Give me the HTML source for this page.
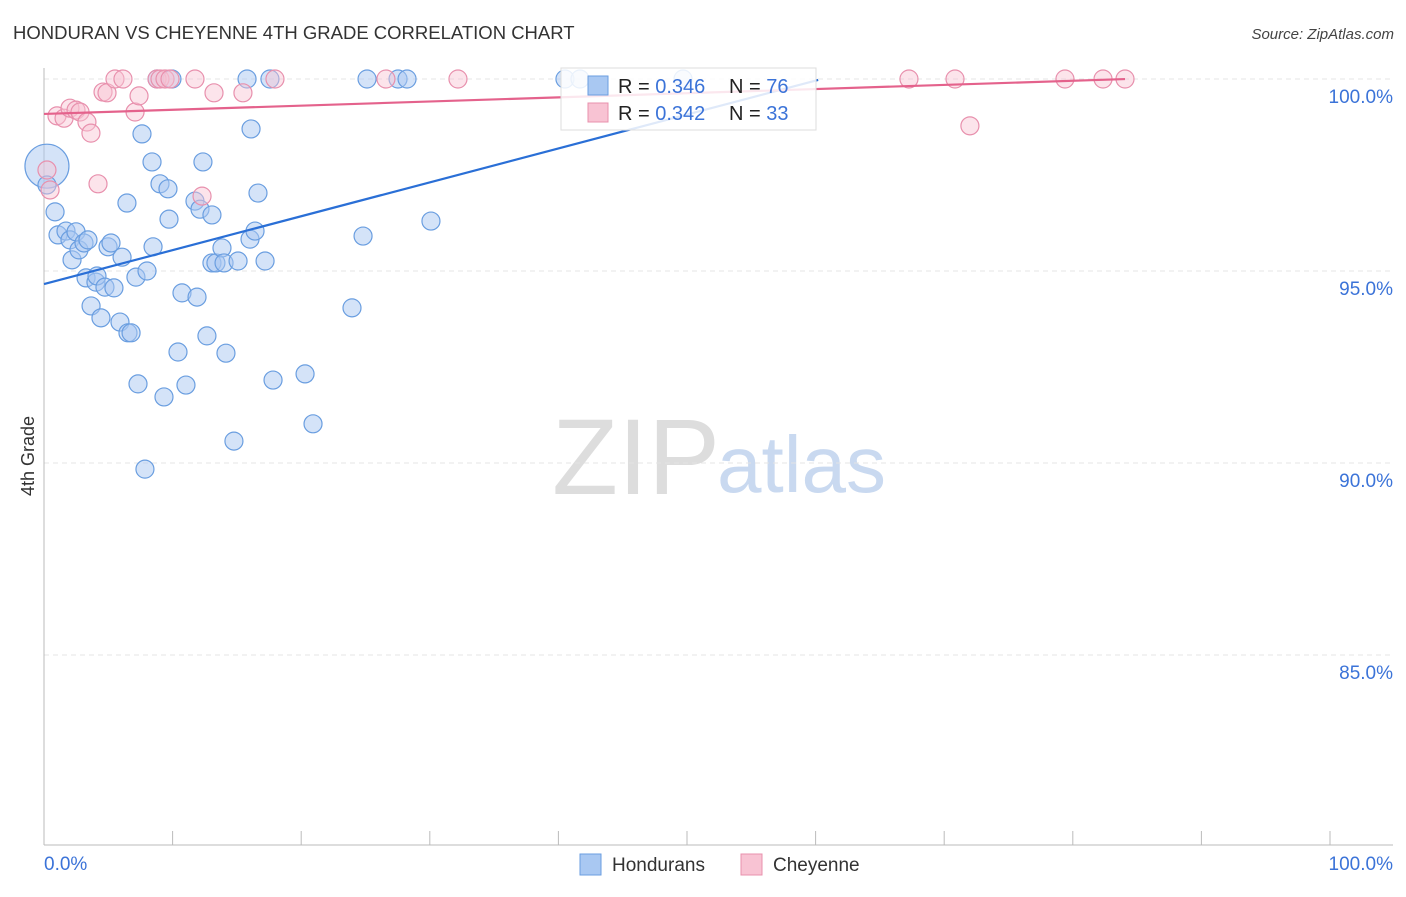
<!DOCTYPE html>
<html><head><meta charset="utf-8"><style>
body{margin:0;background:#fff;font-family:"Liberation Sans",sans-serif;}
svg text{font-family:"Liberation Sans",sans-serif;}
</style></head><body>
<svg id="chart" width="1406" height="892" xmlns="http://www.w3.org/2000/svg">
<text x="13" y="39" font-size="18.5" fill="#333">HONDURAN VS CHEYENNE 4TH GRADE CORRELATION CHART</text>
<text x="1394" y="39" font-size="15" fill="#444" text-anchor="end" font-style="italic">Source: ZipAtlas.com</text>
<g>
<text x="552" y="494" font-size="108" fill="#ddd" font-family="Liberation Serif,serif">ZIP</text>
<text x="717" y="492" font-size="80" fill="#c9d9f0">atlas</text>
</g>
<g id="grid"></g>
<g id="axes"></g>
<g id="pts"></g>
<g id="lines"></g>
<text transform="translate(34,456) rotate(-90)" font-size="18" fill="#333" text-anchor="middle">4th Grade</text>
<g>
<rect x="561" y="68" width="255" height="62" fill="#fff" fill-opacity="0.85" stroke="#ddd"/>
<rect x="588" y="76" width="20" height="19" fill="#a9c8f2" stroke="#6a9ee0"/>
<rect x="588" y="103" width="20" height="19" fill="#f8c3d3" stroke="#e890ad"/>
<text x="618" y="93" font-size="20" fill="#222">R = <tspan fill="#3b73d8">0.346</tspan><tspan x="729">N = </tspan><tspan fill="#3b73d8">76</tspan></text>
<text x="618" y="120" font-size="20" fill="#222">R = <tspan fill="#3b73d8">0.342</tspan><tspan x="729">N = </tspan><tspan fill="#3b73d8">33</tspan></text>
</g>
<g>
<rect x="580" y="854" width="21" height="21" fill="#a9c8f2" stroke="#6a9ee0"/>
<text x="612" y="871" font-size="19" fill="#333">Hondurans</text>
<rect x="741" y="854" width="21" height="21" fill="#f8c3d3" stroke="#e890ad"/>
<text x="773" y="871" font-size="19" fill="#333">Cheyenne</text>
</g>
</svg>
<script>
const yTicks=[100,95,90,85];
const yTickLabels=["100.0%","95.0%","90.0%","85.0%"];
const xTickLabels=["0.0%","100.0%"];
const hondX=[0.23,0.23,0.86,1.09,1.71,2.02,2.18,2.49,2.72,3.11,3.27,3.42,3.66,4.04,4.12,4.43,4.74,4.98,5.21,5.44,5.91,6.07,6.53,6.77,6.45,7.15,7.31,7.62,7.85,8.01,8.4,8.48,8.79,9.02,9.33,9.64,9.72,9.95,10.42,10.73,11.04,11.74,11.9,12.13,12.36,12.67,13.06,13.06,13.37,13.84,14.0,14.15,14.77,15.09,15.79,16.02,16.1,16.41,16.64,17.19,17.57,17.81,20.3,20.92,23.95,24.81,25.12,27.53,28.23,30.09,40.51,41.68,49.69];
const hondY=[97.73,97.24,96.54,95.94,96.04,95.81,95.29,96.02,95.55,95.73,94.82,95.81,94.09,94.71,94.87,93.78,94.58,95.63,95.73,94.56,93.67,95.36,93.39,93.39,96.77,94.84,92.06,98.57,89.84,95.0,97.84,95.63,100,97.27,91.72,97.14,96.35,100,92.89,94.43,92.03,96.82,94.32,96.61,97.84,93.31,96.46,95.21,95.21,95.6,95.21,92.86,90.57,95.26,100,95.83,98.7,96.04,97.03,95.26,100,92.16,92.32,91.02,94.04,95.91,100,100,100,96.3,100,100,100];
const cheyX=[0.23,0.47,1.01,1.56,2.02,2.49,2.8,3.34,3.65,4.2,4.59,4.9,5.52,6.14,7.08,7.39,8.79,9.02,9.41,9.8,11.74,12.29,13.22,15.47,17.96,26.59,32.19,67.26,70.84,72.0,79.39,82.35,84.06];
const cheyY=[97.63,97.11,99.04,98.98,99.24,99.19,99.14,98.88,98.59,97.27,99.66,99.64,100,100,99.14,99.56,100,100,100,100,100,96.95,99.64,99.64,100,100,100,100,100,98.78,100,100,100];
const hondTrend=[94.66,0.0883,60.2];
const cheyTrend=[99.09,0.0108,84.06];
const X0=44,X1=1330,Y100=79,PX5=192;
const sx=v=>X0+(X1-X0)*v/100;
const sy=v=>Y100+(100-v)*PX5/5;
const NS="http://www.w3.org/2000/svg";
function mk(parent,tag,attrs){const e=document.createElementNS(NS,tag);for(const k in attrs)e.setAttribute(k,attrs[k]);parent.appendChild(e);return e;}
const grid=document.getElementById('grid'),axes=document.getElementById('axes'),pts=document.getElementById('pts'),lines=document.getElementById('lines');
yTicks.forEach((t,i)=>{
 const l=mk(grid,'line',{x1:44,x2:1393,y1:sy(t),y2:sy(t),stroke:'#e4e4e4','stroke-dasharray':'5,4'});
 
 
 const tx=mk(axes,'text',{x:1393,y:sy(t)+24,'font-size':19,fill:'#3b73d8','text-anchor':'end'});
 tx.textContent=yTickLabels[i];
 
 
});
const ya=mk(axes,'line',{x1:44,x2:44,y1:68,y2:845,stroke:'#bbb'});


const xa=mk(axes,'line',{x1:44,x2:1393,y1:845,y2:845,stroke:'#bbb'});


for(let i=0;i<=10;i++){
 const t=mk(axes,'line',{x1:sx(i*10),x2:sx(i*10),y1:831,y2:845,stroke:'#bbb'});
 
 
}
const xl0=mk(axes,'text',{x:44,y:870,'font-size':19,fill:'#3b73d8'});xl0.textContent=xTickLabels[0];


const xl1=mk(axes,'text',{x:1393,y:870,'font-size':19,fill:'#3b73d8','text-anchor':'end'});xl1.textContent=xTickLabels[1];


hondX.forEach((x,i)=>{
 const c=mk(pts,'circle',{cx:sx(x),cy:sy(hondY[i]),r:i===0?22:9,fill:'#a9c8f2','fill-opacity':0.5,stroke:'#6a9ee0','stroke-width':1.2});
 
 
});
cheyX.forEach((x,i)=>{
 const c=mk(pts,'circle',{cx:sx(x),cy:sy(cheyY[i]),r:9,fill:'#f8c3d3','fill-opacity':0.45,stroke:'#e890ad','stroke-width':1.2});
 
 
});
const bl=mk(lines,'line',{x1:sx(0),y1:sy(hondTrend[0]),x2:sx(hondTrend[2]),y2:sy(hondTrend[0]+hondTrend[1]*hondTrend[2]),stroke:'#2a6fd6','stroke-width':2.2});


const pl=mk(lines,'line',{x1:sx(0),y1:sy(cheyTrend[0]),x2:sx(cheyTrend[2]),y2:sy(cheyTrend[0]+cheyTrend[1]*cheyTrend[2]),stroke:'#e4628c','stroke-width':2.2});


</script>
</body></html>
